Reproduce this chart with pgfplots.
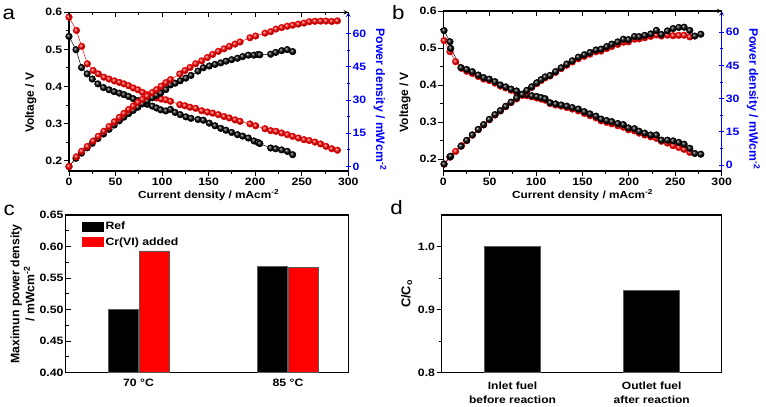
\documentclass[border=0pt]{standalone}
\usepackage{fontspec}
\setmainfont{Liberation Sans}
\newfontfamily\hfont{Liberation Sans}[FakeStretch=1.15]
\usepackage{pgfplots}
\usepackage{pgfplotstable}
\pgfplotsset{compat=1.18}
\definecolor{pblue}{RGB}{0,0,255}
\definecolor{pred}{RGB}{255,0,0}
\definecolor{edgegray}{RGB}{90,90,90}
\newcommand{\tfont}{\hfont\bfseries\fontsize{10.7}{12}\selectfont}
\newcommand{\xlfont}{\hfont\bfseries\fontsize{10.3}{12}\selectfont}
\newcommand{\ylfont}{\bfseries\fontsize{12}{14}\selectfont}

\pgfplotstableread{
x V P
0 0.535 0
7.5 0.499 3.74
13.5 0.451 6.09
19.5 0.434 8.46
25 0.420 10.50
31 0.407 12.62
37 0.397 14.69
43 0.391 16.81
48.5 0.386 18.72
54 0.382 20.63
59 0.378 22.30
64 0.373 23.87
69 0.367 25.32
74 0.362 26.79
79 0.358 28.28
84 0.352 29.57
89.5 0.347 31.06
94 0.342 32.15
98.5 0.337 33.19
104 0.334 34.74
109 0.338 36.84
114 0.330 37.62
119.5 0.324 38.72
125.5 0.318 39.91
131 0.314 41.13
138.5 0.311 43.07
144.3 0.309 44.59
150.7 0.301 45.36
156.8 0.294 46.10
163 0.287 46.78
168.6 0.282 47.55
174.7 0.276 48.22
181 0.270 48.87
186.5 0.266 49.61
192.6 0.261 50.27
198.7 0.253 50.27
203 0.249 50.55
205 0.246 50.43
216.6 0.234 50.68
222 0.232 51.50
228.4 0.229 52.30
234.5 0.225 52.76
240.2 0.216 51.88
}\aBlack

\pgfplotstableread{
x V P
0 0.587 0
8 0.551 4.41
13.6 0.508 6.91
19.7 0.461 9.08
26 0.443 11.52
31.5 0.434 13.67
37.5 0.425 15.94
43 0.420 18.06
48.7 0.415 20.21
54 0.411 22.19
59 0.407 24.01
64 0.402 25.73
69 0.396 27.32
74 0.391 28.93
79 0.384 30.34
84 0.378 31.75
89.5 0.373 33.38
94 0.369 34.69
99 0.366 36.23
104 0.364 37.86
109 0.360 39.24
119 0.351 41.77
124.5 0.348 43.33
130 0.344 44.72
136 0.341 46.38
142.5 0.3345 47.67
148.6 0.331 49.19
154.3 0.328 50.61
160.4 0.324 51.97
166.5 0.319 53.11
172.2 0.315 54.24
178.3 0.310 55.27
183.7 0.306 56.21
194.4 0.299 58.13
200.5 0.294 58.91
210.5 0.286 60.20
216.6 0.281 60.86
222.3 0.279 62.02
228.4 0.2745 62.70
234.5 0.270 63.32
240.2 0.2655 63.77
246.3 0.261 64.28
252.4 0.2565 64.74
258.1 0.254 65.36
264.2 0.250 65.55
270.3 0.245 65.62
276.1 0.2385 65.65
282.2 0.232 65.47
288.3 0.228 65.73
}\aRed

\pgfplotstableread{
x V P
0.8 0.547 0.44
7.2 0.517 3.72
8 0.499 3.99
19 0.447 8.49
25.2 0.442 11.14
31.3 0.436 13.65
37.7 0.427 16.10
43.5 0.420 18.27
49.6 0.416 20.63
55.7 0.409 22.78
61.5 0.400 24.60
67.2 0.395 26.54
73 0.389 28.40
79 0.384 30.34
85 0.375 31.88
90 0.375 33.75
95.3 0.371 35.36
100.7 0.369 37.16
105.4 0.366 38.58
109.7 0.363 39.82
115 0.352 40.48
121 0.349 42.23
127 0.346 43.94
133 0.343 45.62
139 0.339 47.12
145.5 0.335 48.74
152 0.328 49.86
158 0.322 50.88
164.5 0.316 51.98
170 0.308 52.36
176 0.304 53.50
181.5 0.301 54.63
188 0.296 55.65
194 0.293 56.84
199.5 0.284 56.66
206 0.282 58.09
211 0.275 58.03
217 0.270 58.59
223.5 0.265 59.23
229.6 0.265 60.85
235 0.251 58.99
241.5 0.251 60.62
247.6 0.249 61.65
253.7 0.245 62.16
259.5 0.240 62.28
265.6 0.229 60.82
271 0.215 58.27
277.5 0.213 59.11
}\bBlack

\pgfplotstableread{
x V P
0.8 0.520 0.42
7.2 0.490 3.53
13.3 0.463 6.16
19.7 0.445 8.77
25.2 0.437 11.01
31.3 0.431 13.49
37.7 0.423 15.95
43.5 0.416 18.10
49.6 0.412 20.44
55.7 0.405 22.56
61.5 0.397 24.42
67.2 0.392 26.34
73 0.386 28.18
79 0.378 29.86
85 0.372 31.62
90 0.371 33.39
95.3 0.368 35.07
100.7 0.365 36.76
105.4 0.362 38.15
109.7 0.359 39.38
115 0.350 40.25
121 0.346 41.87
127 0.343 43.56
133 0.339 45.09
139 0.335 46.57
145.5 0.330 48.02
152 0.323 49.10
158 0.317 50.09
164.5 0.311 51.16
170 0.303 51.51
176 0.299 52.62
181.5 0.295 53.54
188 0.290 54.52
194 0.286 55.48
199.5 0.279 55.66
206 0.276 56.86
211 0.270 56.97
217 0.265 57.51
223.5 0.260 58.11
229.6 0.256 58.78
235 0.248 58.28
241.5 0.243 58.68
247.6 0.236 58.43
253.7 0.231 58.60
259.5 0.226 58.65
265.6 0.218 57.90
}\bRed

\pgfplotsset{
  base/.style={
    scale only axis, anchor=south west,
    axis line style={line width=1.1bp},
    tick style={line width=0.9bp, black},
    major tick length=5bp, minor tick length=3bp,
    tick align=outside,
    /pgf/number format/assume math mode=true,
    ticklabel style={font=\tfont},
    yticklabel style={inner sep=1.5bp},
    xticklabel style={inner sep=2bp},
  },
  blk/.style={black, line width=0.5bp, mark=ball, mark size=3.3bp, mark options={ball color=black}},
  rd/.style={pred, line width=0.5bp, mark=ball, mark size=3.3bp, mark options={ball color=pred}},
  leftax/.style={base,
    xmin=0, xmax=300,
    xtick={0,50,100,150,200,250,300}, minor x tick num=1,
    ytick={0.2,0.3,0.4,0.5,0.6}, minor y tick num=1,
    xtick pos=left, ytick pos=left,
    yticklabel style={/pgf/number format/fixed, /pgf/number format/precision=1},
    xlabel={Current density / mAcm\textsuperscript{-2}},
    ylabel={Voltage / V},
    xlabel style={at={(axis description cs:0.5,-0.151)}, anchor=center, font=\xlfont},
    ylabel style={at={(axis description cs:-0.137,0.43)}, anchor=center, font=\ylfont},
  },
  rightax/.style={base,
    xmin=0, xmax=300,
    axis x line=none, axis y line=right,
    axis line style={pblue, line width=1.1bp},
    tick style={pblue},
    ytick={0,15,30,45,60}, minor y tick num=1,
    yticklabel style={pblue},
    ylabel={Power density / mWcm\textsuperscript{-2}},
    ylabel style={pblue, rotate=180, at={(axis description cs:1.1135,0.45)}, anchor=center, font=\bfseries\fontsize{12.3}{14}\selectfont},
  },
  topax/.style={base,
    xmin=0, xmax=300, ymin=0, ymax=1,
    axis y line=none, axis x line=top, tick align=inside,
    xtick={0,50,100,150,200,250,300}, minor x tick num=1, xticklabels={},
  },
  cbar/.style={ybar, bar width=30bp, draw=edgegray, line width=0.8bp,
    legend image code/.code={\fill[##1,draw=none] (0bp,-5.2bp) rectangle (22bp,5.2bp);}},
}

\begin{document}
\begin{tikzpicture}
\useasboundingbox (0,0) rectangle (766bp,407bp);

% ---------- panel a ----------
\begin{axis}[leftax, at={(69bp,236bp)}, width=279.3bp, height=158.7bp, ymin=0.172, ymax=0.6]
\addplot[blk] table[x=x,y=V] {\aBlack};
\addplot[rd] table[x=x,y=V] {\aRed};
\end{axis}
\begin{axis}[rightax, at={(69bp,236bp)}, width=279.3bp, height=158.7bp, ymin=-2, ymax=69.6]
\addplot[blk] table[x=x,y=P] {\aBlack};
\addplot[rd] table[x=x,y=P] {\aRed};
\end{axis}
\begin{axis}[topax, at={(69bp,236bp)}, width=279.3bp, height=158.7bp]
\end{axis}

% ---------- panel b ----------
\begin{axis}[leftax, at={(443.3bp,236bp)}, width=278.4bp, height=160bp, ymin=0.1676, ymax=0.6]
\addplot[rd] table[x=x,y=V] {\bRed};
\addplot[blk] table[x=x,y=V] {\bBlack};
\end{axis}
\begin{axis}[rightax, at={(443.3bp,236bp)}, width=278.4bp, height=160bp, ymin=-2.7, ymax=69.6]
\addplot[rd] table[x=x,y=P] {\bRed};
\addplot[blk] table[x=x,y=P] {\bBlack};
\end{axis}
\begin{axis}[topax, at={(443.3bp,236bp)}, width=278.4bp, height=160bp]
\end{axis}

% ---------- panel c ----------
\begin{axis}[base, at={(65.7bp,34.3bp)}, width=282.6bp, height=157.7bp,
  xmin=0.513, xmax=2.403, ymin=0.40, ymax=0.65,
  ytick={0.40,0.45,0.50,0.55,0.60,0.65}, minor y tick num=1, ytick pos=left, tick align=inside,
  yticklabel style={/pgf/number format/fixed, /pgf/number format/fixed zerofill, /pgf/number format/precision=2, inner sep=2bp},
  xtick={1,2}, xticklabels={70 °C, 85 °C}, xtick pos=left, major x tick style={draw=none},
  xticklabel style={yshift=-4bp},
  ylabel={Maximun power density\\/ mWcm\textsuperscript{-2}},
  ylabel style={align=center, at={(axis description cs:-0.153,0.5)}, anchor=center, font=\bfseries\fontsize{12.3}{15}\selectfont},
  legend style={at={(axis description cs:0.057,0.965)}, anchor=north west, draw=none, fill=none,
    font=\tfont, row sep=3bp, inner sep=0pt, nodes={inner sep=1.5bp}},
  legend cell align=left,
]
\addplot[cbar, fill=black, bar shift=-15.5bp] coordinates {(1,0.500) (2,0.569)};
\addplot[cbar, fill=pred, bar shift=15.5bp] coordinates {(1,0.593) (2,0.567)};
\legend{Ref, Cr(VI) added}
\end{axis}

% ---------- panel d ----------
\begin{axis}[base, at={(441.7bp,34.3bp)}, width=280bp, height=157.7bp,
  xmin=0.491, xmax=2.503, ymin=0.8, ymax=1.05,
  ytick={0.8,0.9,1.0}, minor y tick num=1, ytick pos=left,
  yticklabel style={/pgf/number format/fixed, /pgf/number format/fixed zerofill, /pgf/number format/precision=1},
  xtick={1,2}, xticklabels={{Inlet fuel\\before reaction},{Outlet fuel\\after reaction}},
  xtick pos=left, major x tick style={draw=none},
  xticklabel style={align=center, yshift=-2bp, font=\hfont\bfseries\fontsize{10.5}{14.4}\selectfont},
  ylabel={C/C\textsubscript{o}},
  ylabel style={at={(axis description cs:-0.125,0.5)}, anchor=center, font=\bfseries\fontsize{12.8}{14}\selectfont},
]
\addplot[ybar, bar width=56bp, bar shift=0bp, fill=black, draw=edgegray, line width=0.8bp] coordinates {(1,1.0) (2,0.93)};
\end{axis}

% ---------- panel letters ----------
\node[font=\hfont\fontsize{19.5}{20}\selectfont, anchor=center] at (8.8bp,392.5bp) {a};
\node[font=\hfont\fontsize{19.5}{20}\selectfont, anchor=center] at (398.3bp,394.5bp) {b};
\node[font=\hfont\fontsize{19.5}{20}\selectfont, anchor=center] at (9.2bp,196.5bp) {c};
\node[font=\hfont\fontsize{19.5}{20}\selectfont, anchor=center] at (396.7bp,199.5bp) {d};
\end{tikzpicture}
\end{document}
